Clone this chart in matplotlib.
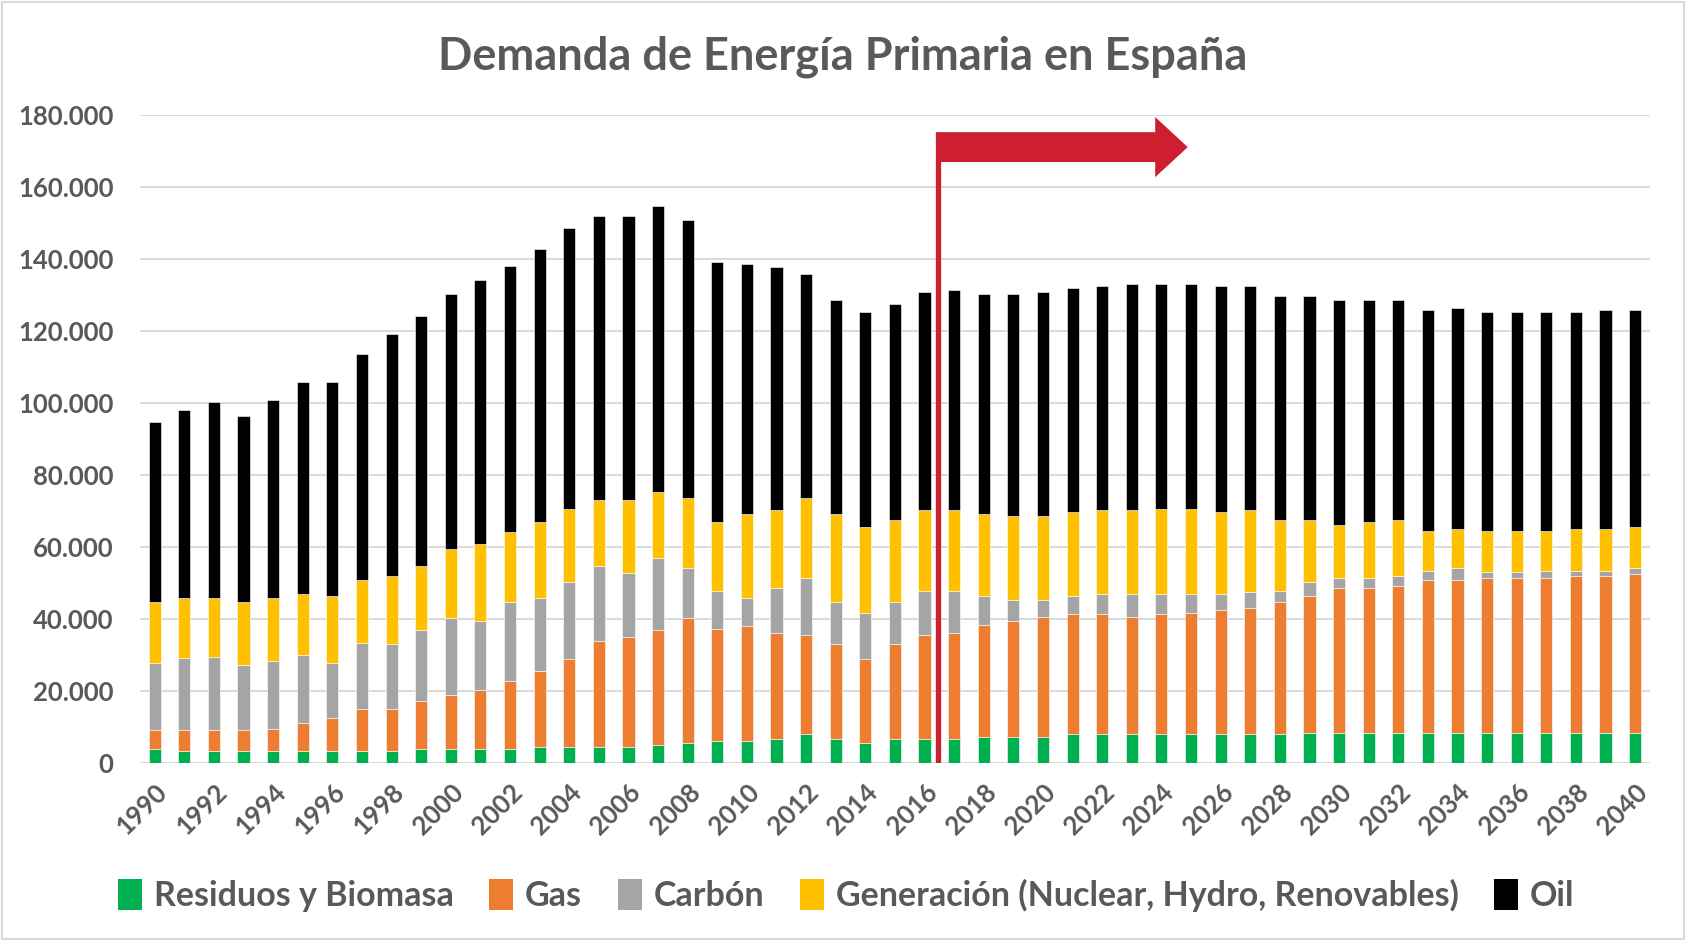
"""Demanda de Energía Primaria en España: stacked bars 1990-2040."""

import matplotlib
matplotlib.use("Agg")
import matplotlib.pyplot as plt
from matplotlib.patches import FancyArrow, Patch, Rectangle
from matplotlib.ticker import FuncFormatter
import numpy as np

plt.rcParams["font.family"] = ["Lato", "DejaVu Sans"]

YEARS = list(range(1990, 2041))
TICK_YEARS = list(range(1990, 2041, 2))

# ktep per source, stacked bottom -> top
RESIDUOS = [4.1, 3.5, 3.5, 3.5, 3.5, 3.5, 3.5, 3.5, 3.5, 4.1,
            4.1, 4.1, 4.1, 4.6, 4.6, 4.6, 4.6, 5.2, 5.7, 6.3,
            6.3, 6.8, 8.0, 6.8, 5.7, 6.8, 6.8, 6.8, 7.3, 7.3,
            7.3, 8.0, 8.0, 8.0, 8.0, 8.0, 8.0, 8.0, 8.0, 8.5,
            8.5, 8.5, 8.5, 8.5, 8.5, 8.5, 8.5, 8.5, 8.5, 8.5, 8.5]
GAS = [5.0, 5.6, 5.6, 5.6, 6.1, 7.8, 9.0, 11.7, 11.7, 13.3,
       14.9, 16.1, 18.8, 21.0, 24.4, 29.4, 30.5, 31.7, 34.5, 31.1,
       31.7, 29.4, 27.7, 26.2, 23.3, 26.2, 28.9, 29.4, 31.2, 32.3,
       33.4, 33.3, 33.3, 32.7, 33.3, 33.8, 34.5, 35.0, 36.7, 37.8,
       40.1, 40.1, 40.6, 42.3, 42.3, 42.8, 42.8, 42.8, 43.4, 43.4, 43.9]
CARBON = [18.8, 20.0, 20.5, 18.3, 18.9, 18.8, 15.4, 18.3, 17.8, 19.5,
          21.2, 19.4, 21.8, 20.2, 21.2, 20.7, 17.8, 20.0, 14.0, 10.5,
          7.8, 12.4, 15.6, 11.7, 12.8, 11.7, 12.2, 11.7, 7.8, 5.6,
          4.5, 5.0, 5.6, 6.2, 5.6, 5.1, 4.4, 4.4, 3.2, 3.9,
          2.7, 2.7, 2.8, 2.7, 3.4, 1.7, 1.7, 2.2, 1.6, 1.6, 1.8]
GENERACION = [16.8, 16.7, 16.2, 17.3, 17.3, 16.8, 18.4, 17.3, 18.9, 17.8,
              19.4, 21.2, 19.4, 21.1, 20.5, 18.3, 20.1, 18.3, 19.3, 19.0,
              23.3, 21.6, 22.2, 24.4, 23.9, 22.7, 22.3, 22.3, 22.8, 23.3,
              23.3, 23.3, 23.3, 23.3, 23.8, 23.8, 22.7, 22.8, 19.5, 17.2,
              14.9, 15.6, 15.5, 11.1, 10.9, 11.6, 11.6, 11.1, 11.6, 11.6, 11.5]
OIL = [49.9, 52.2, 54.4, 51.7, 55.0, 58.9, 59.5, 62.7, 67.2, 69.4,
       70.6, 73.4, 74.0, 75.7, 77.8, 78.9, 78.9, 79.4, 77.3, 72.3,
       69.5, 67.4, 62.3, 59.5, 59.5, 60.1, 60.6, 61.1, 61.1, 61.7,
       62.3, 62.4, 62.3, 62.9, 62.4, 62.4, 62.9, 62.3, 62.3, 62.3,
       62.4, 61.7, 61.2, 61.3, 61.3, 60.6, 60.6, 60.6, 60.1, 60.8, 60.2]

SERIES = [
    ("Residuos y Biomasa", RESIDUOS, "#00B050"),
    ("Gas", GAS, "#ED7D31"),
    ("Carbón", CARBON, "#A5A5A5"),
    ("Generación (Nuclear, Hydro, Renovables)", GENERACION, "#FFC000"),
    ("Oil", OIL, "#000000"),
]

# projection marker: starts between 2016 and 2017
PROJ_X = 2016.45
ARROW_Y = 171000
ARROW_LEN = 8.5

TXT = "#595959"
RED = "#CD1F30"

fig = plt.figure(figsize=(16.86, 9.4), dpi=100)
ax = fig.add_axes([0.083, 0.188, 0.8956, 0.690])

x = np.array(YEARS)
bottom = np.zeros(len(YEARS))
handles = []
for name, vals, color in SERIES:
    v = np.array(vals) * 1000
    ax.bar(x, v, bottom=bottom, width=0.41, color=color,
           edgecolor="white", linewidth=0.4, zorder=3)
    bottom += v
    handles.append(Patch(facecolor=color, label=name))

ax.set_xlim(1989.5, 2040.5)
ax.set_ylim(0, 180000)
ax.set_yticks(np.arange(0, 180001, 20000))
ax.yaxis.set_major_formatter(FuncFormatter(lambda v, p: f"{int(v):,}".replace(",", ".")))
ax.set_xticks(TICK_YEARS)
ax.set_xticklabels([str(y) for y in TICK_YEARS], rotation=45, ha="right",
                   rotation_mode="anchor")
ax.tick_params(axis="both", length=0, labelsize=18.5, labelcolor=TXT)
ax.tick_params(axis="x", pad=12)
ax.tick_params(axis="y", pad=19)
for lab in ax.get_xticklabels() + ax.get_yticklabels():
    lab.set_fontweight("bold")

ax.grid(axis="y", color="#D9D9D9", linewidth=1.4, zorder=0)
for s in ax.spines.values():
    s.set_visible(False)

# red projection marker
ax.plot([PROJ_X, PROJ_X], [0, ARROW_Y + 4150], color=RED, linewidth=3.8,
        zorder=5, solid_capstyle="butt")
ax.add_patch(FancyArrow(PROJ_X - 0.06, ARROW_Y, ARROW_LEN, 0, width=8300,
                        head_width=16700, head_length=1.1,
                        length_includes_head=True, color=RED, zorder=6,
                        linewidth=0))

fig.suptitle("Demanda de Energía Primaria en España", x=0.5, y=0.962,
             fontsize=32.5, fontweight="bold", color=TXT)

leg = fig.legend(handles=handles, loc="center", bbox_to_anchor=(0.502, 0.047),
                 ncol=5, frameon=False, prop={"size": 24.5, "weight": "bold"},
                 handlelength=0.7, handleheight=1.0, handletextpad=0.35,
                 columnspacing=1.05)
for t in leg.get_texts():
    t.set_color(TXT)

fig.patches.append(Rectangle((0.001, 0.001), 0.998, 0.997, transform=fig.transFigure,
                             fill=False, edgecolor="#D9D9D9", linewidth=1.5))

fig.savefig("out.png", dpi=100)
